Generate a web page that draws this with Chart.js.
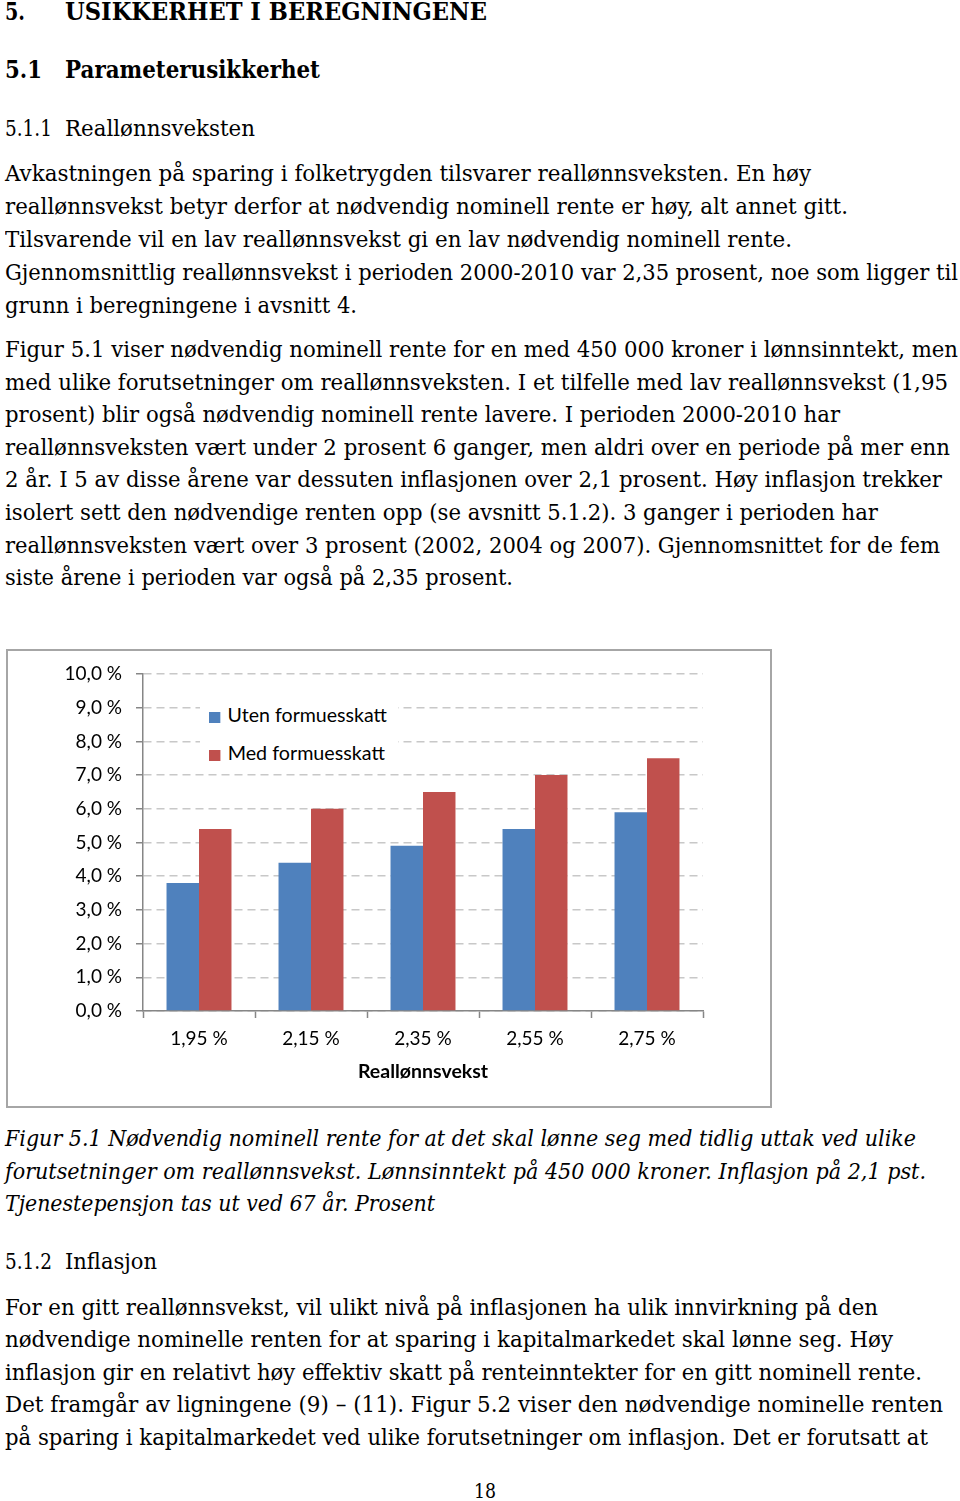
<!DOCTYPE html>
<html>
<head>
<meta charset="utf-8">
<script src="https://cdn.jsdelivr.net/npm/chart.js@4.4.0/dist/chart.umd.min.js"></script>
<style>
  body { margin: 0; background: #fff; width: 960px; height: 1501px; position: relative; overflow: hidden; color: #000; font-family: "DejaVu Serif", serif; }
  .ln { position: absolute; left: 5px; white-space: nowrap; font-size: 23px; line-height: 32px; transform-origin: 0 50%; }
  .h { font-weight: bold; font-size: 24px; }
  .it { font-style: italic; }
  #box { position: absolute; left: 6px; top: 649px; width: 762px; height: 455px; border: 2px solid #a6a6a6; background: #fff; }
  #wrap { position: relative; width: 762px; height: 455px; }
  #legend { position: absolute; left: 200px; top: 692px; width: 198px; height: 76px; background: #fff; font-family: Lato, sans-serif; font-size: 19px; }
  .key { position: absolute; left: 9px; white-space: nowrap; line-height: 22px; transform-origin: 0 50%; }
  .key span { display: inline-block; width: 11px; height: 11px; margin-right: 7px; vertical-align: -1px; }
</style>
</head>
<body>

<div class="ln h" style="top:-4px" data-r="25">5.</div>
<div class="ln h" style="top:-4px;left:65px" data-r="487">USIKKERHET I BEREGNINGENE</div>
<div class="ln h" style="top:54px" data-r="42">5.1</div>
<div class="ln h" style="top:54px;left:65px" data-r="320">Parameterusikkerhet</div>
<div class="ln" style="top:112px" data-r="52">5.1.1</div>
<div class="ln" style="top:112px;left:65px" data-r="255">Reallønnsveksten</div>

<div class="ln" style="top:157px" data-r="811">Avkastningen på sparing i folketrygden tilsvarer reallønnsveksten. En høy</div>
<div class="ln" style="top:190px" data-r="848">reallønnsvekst betyr derfor at nødvendig nominell rente er høy, alt annet gitt.</div>
<div class="ln" style="top:223px" data-r="792">Tilsvarende vil en lav reallønnsvekst gi en lav nødvendig nominell rente.</div>
<div class="ln" style="top:256px" data-r="958">Gjennomsnittlig reallønnsvekst i perioden 2000-2010 var 2,35 prosent, noe som ligger til</div>
<div class="ln" style="top:289px" data-r="357">grunn i beregningene i avsnitt 4.</div>

<div class="ln" style="top:333px" data-r="958">Figur 5.1 viser nødvendig nominell rente for en med 450 000 kroner i lønnsinntekt, men</div>
<div class="ln" style="top:366px" data-r="948">med ulike forutsetninger om reallønnsveksten. I et tilfelle med lav reallønnsvekst (1,95</div>
<div class="ln" style="top:398px" data-r="840">prosent) blir også nødvendig nominell rente lavere. I perioden 2000-2010 har</div>
<div class="ln" style="top:431px" data-r="950">reallønnsveksten vært under 2 prosent 6 ganger, men aldri over en periode på mer enn</div>
<div class="ln" style="top:463px" data-r="942">2 år. I 5 av disse årene var dessuten inflasjonen over 2,1 prosent. Høy inflasjon trekker</div>
<div class="ln" style="top:496px" data-r="878">isolert sett den nødvendige renten opp (se avsnitt 5.1.2). 3 ganger i perioden har</div>
<div class="ln" style="top:529px" data-r="940">reallønnsveksten vært over 3 prosent (2002, 2004 og 2007). Gjennomsnittet for de fem</div>
<div class="ln" style="top:561px" data-r="513">siste årene i perioden var også på 2,35 prosent.</div>

<div id="box"><div id="wrap"><canvas id="renteChart"></canvas></div></div>
<div id="legend">
  <div class="key" style="top:12px" data-k="187"><span style="background:#4f81bd"></span>Uten formuesskatt</div>
  <div class="key" style="top:50px" data-k="185"><span style="background:#c0504d"></span>Med formuesskatt</div>
</div>

<div class="ln it" style="top:1122px" data-r="916">Figur 5.1 Nødvendig nominell rente for at det skal lønne seg med tidlig uttak ved ulike</div>
<div class="ln it" style="top:1155px" data-r="926">forutsetninger om reallønnsvekst. Lønnsinntekt på 450 000 kroner. Inflasjon på 2,1 pst.</div>
<div class="ln it" style="top:1187px" data-r="435">Tjenestepensjon tas ut ved 67 år. Prosent</div>

<div class="ln" style="top:1245px" data-r="52">5.1.2</div>
<div class="ln" style="top:1245px;left:65px" data-r="157">Inflasjon</div>

<div class="ln" style="top:1291px" data-r="878">For en gitt reallønnsvekst, vil ulikt nivå på inflasjonen ha ulik innvirkning på den</div>
<div class="ln" style="top:1323px" data-r="893">nødvendige nominelle renten for at sparing i kapitalmarkedet skal lønne seg. Høy</div>
<div class="ln" style="top:1356px" data-r="922">inflasjon gir en relativt høy effektiv skatt på renteinntekter for en gitt nominell rente.</div>
<div class="ln" style="top:1388px" data-r="943">Det framgår av ligningene (9) – (11). Figur 5.2 viser den nødvendige nominelle renten</div>
<div class="ln" style="top:1421px" data-r="928">på sparing i kapitalmarkedet ved ulike forutsetninger om inflasjon. Det er forutsatt at</div>

<div class="ln" style="top:1475px;left:474px;font-size:20px" data-r="496">18</div>

<script>
// Reallønnsvekst categories and required nominal rate (percent)
const categories = ['1,95 %', '2,15 %', '2,35 %', '2,55 %', '2,75 %'];
const utenFormuesskatt = [3.8, 4.4, 4.9, 5.4, 5.9];
const medFormuesskatt = [5.4, 6.0, 6.5, 7.0, 7.5];
const yTickLabels = ['0,0 %', '1,0 %', '2,0 %', '3,0 %', '4,0 %', '5,0 %', '6,0 %', '7,0 %', '8,0 %', '9,0 %', '10,0 %'];

// stretch each text line to the width it has on the page
document.querySelectorAll('[data-r]').forEach(el => {
  const w = el.getBoundingClientRect().width;
  const target = +el.dataset.r - el.offsetLeft;
  el.style.transform = 'scaleX(' + (target / w) + ')';
});
document.querySelectorAll('[data-k]').forEach(el => {
  const w = el.getBoundingClientRect().width;
  el.style.transform = 'scaleX(' + (+el.dataset.k - 9) / w + ')';
});

const axisFont = { family: 'Lato', size: 19 };

const ctxRente = document.getElementById('renteChart').getContext('2d');
const renteChart = new Chart(ctxRente, {
  type: 'bar',
  data: {
    labels: categories,
    datasets: [{
      label: 'Uten formuesskatt',
      data: utenFormuesskatt,
      backgroundColor: '#4f81bd',
      barPercentage: 1.0,
      categoryPercentage: 0.58,
    }, {
      label: 'Med formuesskatt',
      data: medFormuesskatt,
      backgroundColor: '#c0504d',
      barPercentage: 1.0,
      categoryPercentage: 0.58,
    }]
  },
  options: {
    responsive: true,
    maintainAspectRatio: false,
    animation: false,
    layout: {
      padding: { left: 0, right: 67, top: 23, bottom: 0 }
    },
    scales: {
      x: {
        grid: {
          drawOnChartArea: false,
          drawTicks: true,
          tickLength: 7,
          tickColor: '#868686',
          tickWidth: 1.5,
          offset: true,
        },
        border: { color: '#868686', width: 1.5 },
        ticks: { color: '#000', font: axisFont, padding: 9 },
        title: {
          display: true,
          text: 'Reallønnsvekst',
          color: '#000',
          font: { family: 'Lato', size: 19.5, weight: 'bold' },
          padding: { top: 0, bottom: 23 },
        },
        afterFit(scale) { scale.height = 95; },
      },
      y: {
        min: 0,
        max: 10,
        ticks: {
          stepSize: 1,
          color: '#000',
          font: axisFont,
          padding: 14,
          callback: (v, i) => yTickLabels[i],
        },
        grid: {
          color: '#c8c8c8',
          lineWidth: 1.5,
          tickLength: 7,
          tickColor: '#868686',
          tickWidth: 1.5,
        },
        border: { color: '#868686', width: 1.5, dash: [8, 5] },
        afterFit(scale) {
          scale.width = 135;
          scale.paddingTop = 0;
          scale.paddingBottom = 0;
        },
      }
    },
    plugins: {
      legend: { display: false },
      tooltip: { enabled: false }
    }
  }
});
</script>
</body>
</html>
